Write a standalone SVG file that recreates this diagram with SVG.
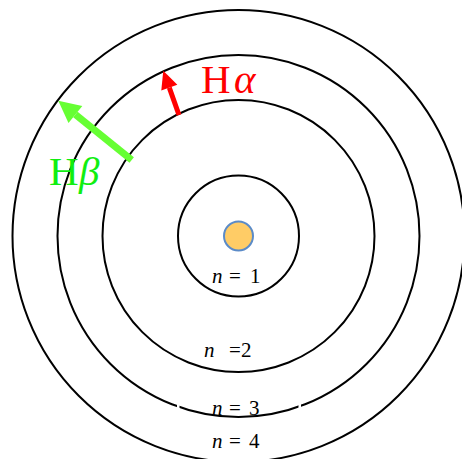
<svg xmlns="http://www.w3.org/2000/svg" width="462" height="459" viewBox="0 0 462 459">
  <style>
    .orbit { fill: none; stroke: #000; stroke-width: 2; }
    .lbl { font-family: "Liberation Serif", "Times New Roman", serif; font-size: 21px; fill: #000; }
    .it { font-style: italic; }
    .big { font-family: "Liberation Serif", "Times New Roman", serif; font-size: 41px; }
  </style>
  <defs>
    <marker id="headRed" markerUnits="userSpaceOnUse" markerWidth="18" markerHeight="17" refX="0" refY="8.5" orient="auto" overflow="visible">
      <path d="M0,0 L18,8.5 L0,17 z" fill="#FF0000"/>
    </marker>
    <marker id="headGreen" markerUnits="userSpaceOnUse" markerWidth="22" markerHeight="22" refX="0" refY="11" orient="auto" overflow="visible">
      <path d="M0,0 L22,11 L0,22 z" fill="#66FF33"/>
    </marker>
  </defs>
  <rect width="462" height="459" fill="#fff"/>

  <g id="orbit-n4"><circle class="orbit" cx="238.5" cy="236" r="226"/></g>
  <g id="orbit-n3"><circle class="orbit" cx="238.5" cy="236" r="181"/></g>
  <g id="orbit-n2"><circle class="orbit" cx="238.5" cy="236" r="136"/></g>
  <g id="orbit-n1"><circle class="orbit" cx="238.5" cy="236" r="60.5"/></g>
  <g id="nucleus"><circle cx="238.5" cy="236" r="14.5" fill="#FFCC66" stroke="#5B8BC8" stroke-width="2"/></g>

  <g id="label-n1"><text class="lbl" y="283"><tspan class="it" x="212">n</tspan><tspan x="229">=</tspan><tspan x="250">1</tspan></text></g>
  <g id="label-n2"><text class="lbl" y="357"><tspan class="it" x="204">n</tspan><tspan x="229">=</tspan><tspan x="241">2</tspan></text></g>
  <g id="label-n3">
    <rect x="177" y="402" width="2.5" height="8" fill="#fff"/>
    <rect x="298.5" y="402" width="2.5" height="8" fill="#fff"/>
    <text class="lbl" y="415"><tspan class="it" x="212">n</tspan><tspan x="229">=</tspan><tspan x="249">3</tspan></text>
  </g>
  <g id="label-n4"><text class="lbl" y="448"><tspan class="it" x="212">n</tspan><tspan x="229">=</tspan><tspan x="249">4</tspan></text></g>

  <g id="connectors">
    <line x1="179" y1="115" x2="169.3" y2="87.7" stroke="#FF0000" stroke-width="5" marker-end="url(#headRed)"/>
    <line x1="131.7" y1="160" x2="75.4" y2="114.5" stroke="#66FF33" stroke-width="7" marker-end="url(#headGreen)"/>
  </g>

  <g id="label-Halpha"><text class="big" y="93" fill="#FF0000"><tspan x="201">H</tspan><tspan class="it" x="234">α</tspan></text></g>
  <g id="label-Hbeta"><text class="big" y="185" fill="#11EE11"><tspan x="49">H</tspan><tspan class="it" x="79">β</tspan></text></g>
</svg>
